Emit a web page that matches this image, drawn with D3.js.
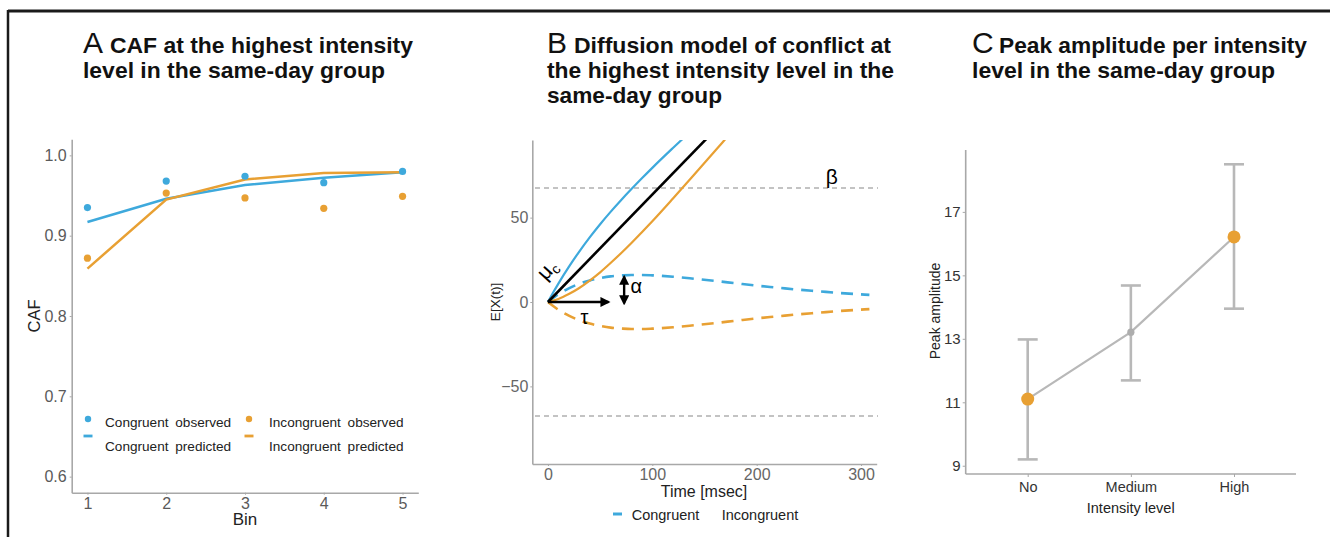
<!DOCTYPE html>
<html>
<head>
<meta charset="utf-8">
<script src="https://cdn.jsdelivr.net/npm/d3@7"></script>
<style>
  body { margin: 0; background: #fff; }
  svg { display: block; }
  text { font-family: "Liberation Sans", Arial, sans-serif; }
</style>
</head>
<body>
<svg id="fig" width="1330" height="537"></svg>
<script>
// ---- panel A: conditional accuracy function, 5 bins
var bins = [1, 2, 3, 4, 5];
var congObs = [0.935, 0.968, 0.974, 0.966, 0.980];
var incongObs = [0.872, 0.953, 0.947, 0.934, 0.949];
var congPred = [0.917, 0.946, 0.963, 0.972, 0.979];
var incongPred = [0.859, 0.945, 0.970, 0.978, 0.979];
var cafTicks = [0.6, 0.7, 0.8, 0.9, 1.0];

// ---- panel B: expected diffusion paths
var tAuto = [0, 5, 10, 20, 30, 40, 50, 60, 70, 80, 90, 100, 120, 140, 160, 180, 200, 220, 240, 260, 280, 300, 308];
var autoCong = [0, 2.4, 4.6, 8.1, 10.8, 12.8, 14.2, 15.2, 15.7, 16.0, 16.0, 15.8, 15.0, 13.8, 12.5, 11.1, 9.7, 8.5, 7.3, 6.3, 5.3, 4.5, 4.2];
var autoIncong = [0, -2.4, -4.6, -8.1, -10.8, -12.8, -14.2, -15.2, -15.7, -16.0, -16.0, -15.8, -15.0, -13.8, -12.5, -11.1, -9.7, -8.5, -7.3, -6.3, -5.3, -4.5, -4.2];
var tCong = [0, 5, 10, 20, 30, 40, 50, 60, 70, 80, 90, 100, 120, 140];
var congPath = [0, 5.6, 10.9, 20.8, 29.9, 38.3, 46.1, 53.4, 60.3, 66.9, 73.3, 79.5, 91.4, 103.0];
var tIncong = [0, 5, 10, 20, 30, 40, 50, 60, 70, 80, 90, 100, 120, 140, 160, 180];
var incongPath = [0, 0.8, 1.8, 4.7, 8.3, 12.7, 17.6, 23.1, 28.9, 35.0, 41.4, 47.9, 61.5, 75.4, 89.5, 103.6];
var tControl = [0, 160];
var controlPath = [0, 101.9];
var boundary = 67.5;
var timeTicks = [0, 100, 200, 300];
var exTicks = [-50, 0, 50];

// ---- panel C: peak amplitude per intensity level
var levels = ["No", "Medium", "High"];
var peakMean = [11.10, 13.21, 16.21];
var peakLo = [9.20, 11.69, 13.95];
var peakHi = [12.98, 14.68, 18.50];
var peakTicks = [9, 11, 13, 15, 17];

var BLUE = "#3ea9dc", ORANGE = "#e8a033", AXIS = "#a8a8a8";
var svg = d3.select("#fig");

// frame
svg.append("line").attr("x1", 8).attr("x2", 1330).attr("y1", 11).attr("y2", 11)
  .attr("stroke", "#1a1a1a").attr("stroke-width", 3);
svg.append("line").attr("x1", 8).attr("x2", 8).attr("y1", 10).attr("y2", 537)
  .attr("stroke", "#1a1a1a").attr("stroke-width", 2.5);

function title(x, letter, lines, widths) {
  var g = svg.append("g");
  g.append("text").attr("x", x).attr("y", 53).attr("font-size", 30)
    .attr("fill", "#111").text(letter);
  lines.forEach(function (s, i) {
    var lx = i === 0 ? x + 27 : x;
    g.append("text").attr("x", lx).attr("y", 53 + i * 25)
      .attr("font-size", 21.5).attr("font-weight", "bold").attr("fill", "#111")
      .attr("textLength", widths[i]).attr("lengthAdjust", "spacingAndGlyphs")
      .text(s);
  });
}
title(83, "A", ["CAF at the highest intensity", "level in the same-day group"], [303, 302]);
title(547, "B", ["Diffusion model of conflict at", "the highest intensity level in the", "same-day group"], [317, 347, 175]);
title(972, "C", ["Peak amplitude per intensity", "level in the same-day group"], [308, 303]);

function styleAxis(g, color, size) {
  g.select(".domain").attr("stroke", AXIS).attr("stroke-width", 1.6);
  g.selectAll(".tick line").attr("stroke", AXIS).attr("stroke-width", 1);
  g.selectAll(".tick text").attr("fill", color).attr("font-size", size)
    .attr("font-family", "Liberation Sans, Arial, sans-serif");
}

// ================= Panel A
(function () {
  var x = d3.scaleLinear().domain([0.8, 5.2]).range([71.7, 418.3]);
  var y = d3.scaleLinear().domain([0.58, 1.02]).range([492.7, 139.3]);

  var gy = svg.append("g").attr("transform", "translate(71.7,0)")
    .call(d3.axisLeft(y).tickValues(cafTicks).tickFormat(d3.format(".1f"))
      .tickSize(2).tickPadding(3).tickSizeOuter(0));
  styleAxis(gy, "#5a5a5a", 16);
  var gx = svg.append("g").attr("transform", "translate(0,492.7)")
    .call(d3.axisBottom(x).tickValues(bins).tickFormat(d3.format("d"))
      .tickSize(2).tickPadding(3).tickSizeOuter(0));
  styleAxis(gx, "#5a5a5a", 16);

  var line = d3.line().x(function (d) { return x(d[0]); }).y(function (d) { return y(d[1]); });
  [[congPred, BLUE], [incongPred, ORANGE]].forEach(function (s) {
    svg.append("path").datum(d3.zip(bins, s[0])).attr("d", line)
      .attr("fill", "none").attr("stroke", s[1]).attr("stroke-width", 2.5);
  });
  [[congObs, BLUE], [incongObs, ORANGE]].forEach(function (s) {
    svg.append("g").selectAll("circle").data(d3.zip(bins, s[0])).join("circle")
      .attr("cx", function (d) { return x(d[0]); })
      .attr("cy", function (d) { return y(d[1]); })
      .attr("r", 3.6).attr("fill", s[1]);
  });

  svg.append("text").attr("transform", "translate(40,316) rotate(-90)")
    .attr("text-anchor", "middle").attr("font-size", 16.5).attr("fill", "#222").text("CAF");
  svg.append("text").attr("x", 245).attr("y", 525).attr("text-anchor", "middle")
    .attr("font-size", 17).attr("fill", "#222").text("Bin");

  // legend
  var leg = [
    { x: 88, c: BLUE, a: "Congruent observed", b: "Congruent predicted" },
    { x: 249, c: ORANGE, a: "Incongruent observed", b: "Incongruent predicted" }
  ];
  leg.forEach(function (d) {
    svg.append("circle").attr("cx", d.x).attr("cy", 419).attr("r", 3.2).attr("fill", d.c);
    svg.append("line").attr("x1", d.x - 4.5).attr("x2", d.x + 4.5).attr("y1", 436).attr("y2", 436)
      .attr("stroke", d.c).attr("stroke-width", 2.8);
    [d.a, d.b].forEach(function (s, i) {
      svg.append("text").attr("x", d.x + (d.x < 100 ? 17 : 20)).attr("y", 427 + i * 24)
        .attr("font-size", 13.6).attr("word-spacing", 3).attr("fill", "#222").text(s);
    });
  });
})();

// ================= Panel B
(function () {
  var x = d3.scaleLinear().domain([-15, 315]).range([532.3, 876.7]);
  var y = d3.scaleLinear().domain([-96, 96]).range([464, 140]);

  svg.append("defs").html(
    '<clipPath id="clipB"><rect x="532.3" y="140" width="346" height="324"/></clipPath>' +
    '<marker id="ah" viewBox="0 0 10 10" refX="8" refY="5" markerWidth="4.2" markerHeight="4.2" orient="auto-start-reverse">' +
    '<path d="M0,0 L10,5 L0,10 z" fill="#000"/></marker>');

  var gy = svg.append("g").attr("transform", "translate(532.3,0)")
    .call(d3.axisLeft(y).tickValues(exTicks).tickFormat(function (d) { return d < 0 ? "\u221250" : d; })
      .tickSize(2).tickPadding(2).tickSizeOuter(0));
  styleAxis(gy, "#666", 16);
  var gx = svg.append("g").attr("transform", "translate(0,464)")
    .call(d3.axisBottom(x).tickValues(timeTicks).tickSize(2).tickPadding(3).tickSizeOuter(0));
  styleAxis(gx, "#666", 16);

  var plot = svg.append("g").attr("clip-path", "url(#clipB)");
  [boundary, -boundary].forEach(function (b) {
    plot.append("line").attr("x1", 535).attr("x2", 878).attr("y1", y(b)).attr("y2", y(b))
      .attr("stroke", "#b0b0b0").attr("stroke-width", 1.5).attr("stroke-dasharray", "5,4");
  });

  var line = d3.line().curve(d3.curveMonotoneX)
    .x(function (d) { return x(d[0]); }).y(function (d) { return y(d[1]); });
  plot.append("path").datum(d3.zip(tAuto, autoCong)).attr("d", line).attr("fill", "none")
    .attr("stroke", BLUE).attr("stroke-width", 2.6).attr("stroke-dasharray", "12,8");
  plot.append("path").datum(d3.zip(tAuto, autoIncong)).attr("d", line).attr("fill", "none")
    .attr("stroke", ORANGE).attr("stroke-width", 2.6).attr("stroke-dasharray", "12,8");
  plot.append("path").datum(d3.zip(tCong, congPath)).attr("d", line).attr("fill", "none")
    .attr("stroke", BLUE).attr("stroke-width", 2.2);
  plot.append("path").datum(d3.zip(tIncong, incongPath)).attr("d", line).attr("fill", "none")
    .attr("stroke", ORANGE).attr("stroke-width", 2.2);
  plot.append("path").datum(d3.zip(tControl, controlPath)).attr("d", line).attr("fill", "none")
    .attr("stroke", "#000").attr("stroke-width", 2.6);

  // annotations
  svg.append("line").attr("x1", x(0)).attr("y1", y(0)).attr("x2", x(58)).attr("y2", y(0))
    .attr("stroke", "#000").attr("stroke-width", 2.4).attr("marker-end", "url(#ah)");
  svg.append("line").attr("x1", x(73)).attr("y1", y(15)).attr("x2", x(73)).attr("y2", y(-0.8))
    .attr("stroke", "#000").attr("stroke-width", 2.4)
    .attr("marker-start", "url(#ah)").attr("marker-end", "url(#ah)");
  svg.append("text").attr("x", x(79)).attr("y", y(9) + 6).attr("font-size", 20).text("\u03b1");
  svg.append("text").attr("x", x(35)).attr("y", y(-9) + 7).attr("text-anchor", "middle")
    .attr("font-size", 20).text("\u03c4");
  svg.append("text").attr("x", x(272)).attr("y", y(74) + 7).attr("text-anchor", "middle")
    .attr("font-size", 21).text("\u03b2");
  var mu = svg.append("text").attr("transform", "translate(" + x(4) + "," + (y(20) + 6) + ") rotate(-48)")
    .attr("text-anchor", "middle").attr("font-size", 21);
  mu.append("tspan").text("\u03bc");
  mu.append("tspan").attr("font-size", 14).attr("dy", 4).text("c");

  svg.append("text").attr("transform", "translate(500,302) rotate(-90)")
    .attr("text-anchor", "middle").attr("font-size", 13.5).attr("fill", "#222").text("E[X(t)]");
  svg.append("text").attr("x", 704).attr("y", 497).attr("text-anchor", "middle")
    .attr("font-size", 16).attr("fill", "#222").text("Time [msec]");

  svg.append("line").attr("x1", 613).attr("x2", 622).attr("y1", 514).attr("y2", 514)
    .attr("stroke", BLUE).attr("stroke-width", 3);
  svg.append("text").attr("x", 631.7).attr("y", 519.5).attr("font-size", 14.5).attr("fill", "#222").text("Congruent");
  svg.append("text").attr("x", 721.7).attr("y", 519.5).attr("font-size", 14.5).attr("fill", "#222").text("Incongruent");
})();

// ================= Panel C
(function () {
  var x = d3.scalePoint().domain(levels).range([1027.7, 1234]);
  var y = d3.scaleLinear().domain([8.74, 18.95]).range([474, 150]);

  var gy = svg.append("g").attr("transform", "translate(965.7,0)")
    .call(d3.axisLeft(y).tickValues(peakTicks).tickSize(3).tickPadding(2).tickSizeOuter(0));
  styleAxis(gy, "#333", 15);
  gy.select(".domain").attr("d", "M0,150V474");
  var gx = svg.append("g").attr("transform", "translate(0,474)")
    .call(d3.axisBottom(x).tickSize(3).tickPadding(5).tickSizeOuter(0));
  styleAxis(gx, "#333", 14.5);
  gx.select(".domain").attr("d", "M965.7,0H1296");

  var rows = levels.map(function (l, i) { return { l: l, m: peakMean[i], lo: peakLo[i], hi: peakHi[i] }; });
  var eb = svg.append("g").attr("stroke", "#b8b8b8").attr("stroke-width", 2.6);
  rows.forEach(function (d) {
    var cx = x(d.l);
    eb.append("line").attr("x1", cx).attr("x2", cx).attr("y1", y(d.lo)).attr("y2", y(d.hi));
    eb.append("line").attr("x1", cx - 10).attr("x2", cx + 10).attr("y1", y(d.lo)).attr("y2", y(d.lo));
    eb.append("line").attr("x1", cx - 10).attr("x2", cx + 10).attr("y1", y(d.hi)).attr("y2", y(d.hi));
  });
  svg.append("path").datum(rows)
    .attr("d", d3.line().x(function (d) { return x(d.l); }).y(function (d) { return y(d.m); }))
    .attr("fill", "none").attr("stroke", "#b8b8b8").attr("stroke-width", 2.2);
  svg.append("g").selectAll("circle").data(rows).join("circle")
    .attr("cx", function (d) { return x(d.l); }).attr("cy", function (d) { return y(d.m); })
    .attr("r", function (d) { return d.l === "Medium" ? 3.6 : 6.5; })
    .attr("fill", function (d) { return d.l === "Medium" ? "#adadad" : ORANGE; });

  svg.append("text").attr("transform", "translate(940,311) rotate(-90)")
    .attr("text-anchor", "middle").attr("font-size", 14).attr("fill", "#222").text("Peak amplitude");
  svg.append("text").attr("x", 1130.7).attr("y", 513).attr("text-anchor", "middle")
    .attr("font-size", 14.5).attr("fill", "#222").text("Intensity level");
})();
</script>
</body>
</html>
